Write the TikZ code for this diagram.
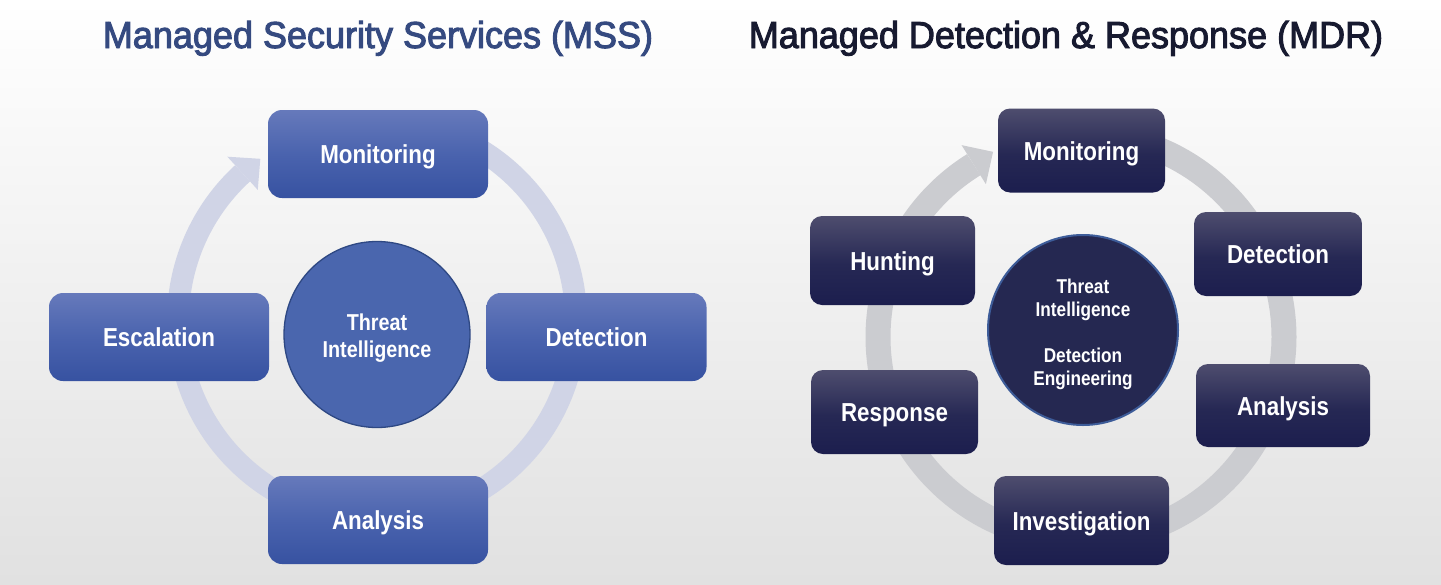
\documentclass[tikz,border=0pt]{standalone}
\usepackage{fontspec}
\setmainfont{Liberation Sans}
\newfontfamily\titlefont{Liberation Sans}[FakeStretch=0.96, FakeBold=2.6]
\newfontfamily\labfont{Liberation Sans}[FakeStretch=0.86]
\usetikzlibrary{calc}
\definecolor{bgbot}{HTML}{E1E1E1}
\definecolor{titleL}{HTML}{354A80}
\definecolor{titleR}{HTML}{171A30}
\definecolor{lboxtop}{HTML}{6679BB}
\definecolor{lboxmid}{HTML}{4A63AE}
\definecolor{lboxbot}{HTML}{3752A1}
\definecolor{rboxtop}{HTML}{4E4D6E}
\definecolor{rboxmid}{HTML}{262854}
\definecolor{rboxbot}{HTML}{1C1E4E}
\definecolor{lcirc}{HTML}{4A66AE}
\definecolor{lcircb}{HTML}{2E4883}
\definecolor{rcirc}{HTML}{252851}
\definecolor{rcircb}{HTML}{3D5C99}
\definecolor{ringL}{HTML}{D0D4E6}
\definecolor{ringR}{HTML}{CBCCD0}
\pgfdeclareverticalshading{lshade}{100bp}{color(0bp)=(lboxbot); color(25bp)=(lboxbot); color(50bp)=(lboxmid); color(75bp)=(lboxtop); color(100bp)=(lboxtop)}
\pgfdeclareverticalshading{rshade}{100bp}{color(0bp)=(rboxbot); color(25bp)=(rboxbot); color(48bp)=(rboxmid); color(75bp)=(rboxtop); color(100bp)=(rboxtop)}
\tikzset{
  lbox/.style={rounded corners=14pt, shading=lshade,
    minimum width=220pt, minimum height=88pt, inner sep=0pt, text=white,
    font=\labfont\bfseries\fontsize{26}{30}\selectfont, text height=19pt, text depth=0pt},
  rbox/.style={rounded corners=12pt, shading=rshade,
    minimum width=167pt, minimum height=84pt, inner sep=0pt, text=white,
    font=\labfont\bfseries\fontsize{26}{30}\selectfont, text height=19pt, text depth=0pt},
  titletext/.style={font=\titlefont\fontsize{37.5}{40}\selectfont, anchor=base},
}
\begin{document}
\begin{tikzpicture}[x=1pt,y=-1pt]
\useasboundingbox (0,0) rectangle (1441,584);
\fill[top color=white, bottom color=bgbot] (0,0) rectangle (1441,584);

% titles
\node[titletext, text=titleL] (tL) at (378,48) {Managed Security Services (MSS)};
\node[titletext, text=titleR] (tR) at (1066,48) {Managed Detection \& Response (MDR)};

% left ring
\coordinate (cL) at (377,320);
\draw[ringL, line width=22pt] plot[smooth, domain=-70:227.5, samples=120]
  ({377+199*cos(\x)},{320+199*sin(\x)});
\fill[ringL] ({377+221.5*cos(227.5)},{320+221.5*sin(227.5)})
  -- ({377+176.5*cos(227.5)},{320+176.5*sin(227.5)})
  -- ({377+199*cos(234.1)},{320+199*sin(234.1)}) -- cycle;

% right ring
\coordinate (cR) at (1081,337);
\draw[ringR, line width=25pt] plot[smooth, domain=-70:238.1, samples=120]
  ({1081+203*cos(\x)},{337+203*sin(\x)});
\fill[ringR] ({1081+226*cos(238.1)},{337+226*sin(238.1)})
  -- ({1081+180*cos(238.1)},{337+180*sin(238.1)})
  -- ({1081+205*cos(244.6)},{337+205*sin(244.6)}) -- cycle;

% left diagram
\node[lbox] (lmon) at (378,154) {Monitoring};
\node[lbox] (lesc) at (159,337) {Escalation};
\node[lbox] (ldet) at (596.5,337) {Detection};
\node[lbox] (lana) at (378,520) {Analysis};
\node[circle, minimum size=186pt, fill=lcirc, draw=lcircb, line width=1.3pt]
  (lti) at (377,334.5) {};
\node[text=white, align=center, font=\labfont\bfseries\fontsize{23}{27}\selectfont]
  (ltit) at (377,338.5) {Threat\\Intelligence};

% right diagram
\node[rbox] (rmon) at (1081.5,150.5) {Monitoring};
\node[rbox, minimum width=165pt, minimum height=89pt] (rhun) at (892.5,260.5) {Hunting};
\node[rbox, minimum width=168pt] (rdet) at (1278,254) {Detection};
\node[rbox] (rres) at (894.5,412) {Response};
\node[rbox, minimum width=174pt, minimum height=83pt] (rana) at (1283,405.5) {Analysis};
\node[rbox, minimum width=175pt, minimum height=89pt] (rinv) at (1081.5,520.5) {Investigation};
\node[circle, minimum size=190pt, fill=rcirc, draw=rcircb, line width=2pt]
  (rti) at (1083,330) {};
\node[text=white, align=center, font=\labfont\bfseries\fontsize{20}{23}\selectfont]
  (rtit) at (1083,334) {Threat\\Intelligence\\[23pt]Detection\\Engineering};
\end{tikzpicture}
\end{document}
